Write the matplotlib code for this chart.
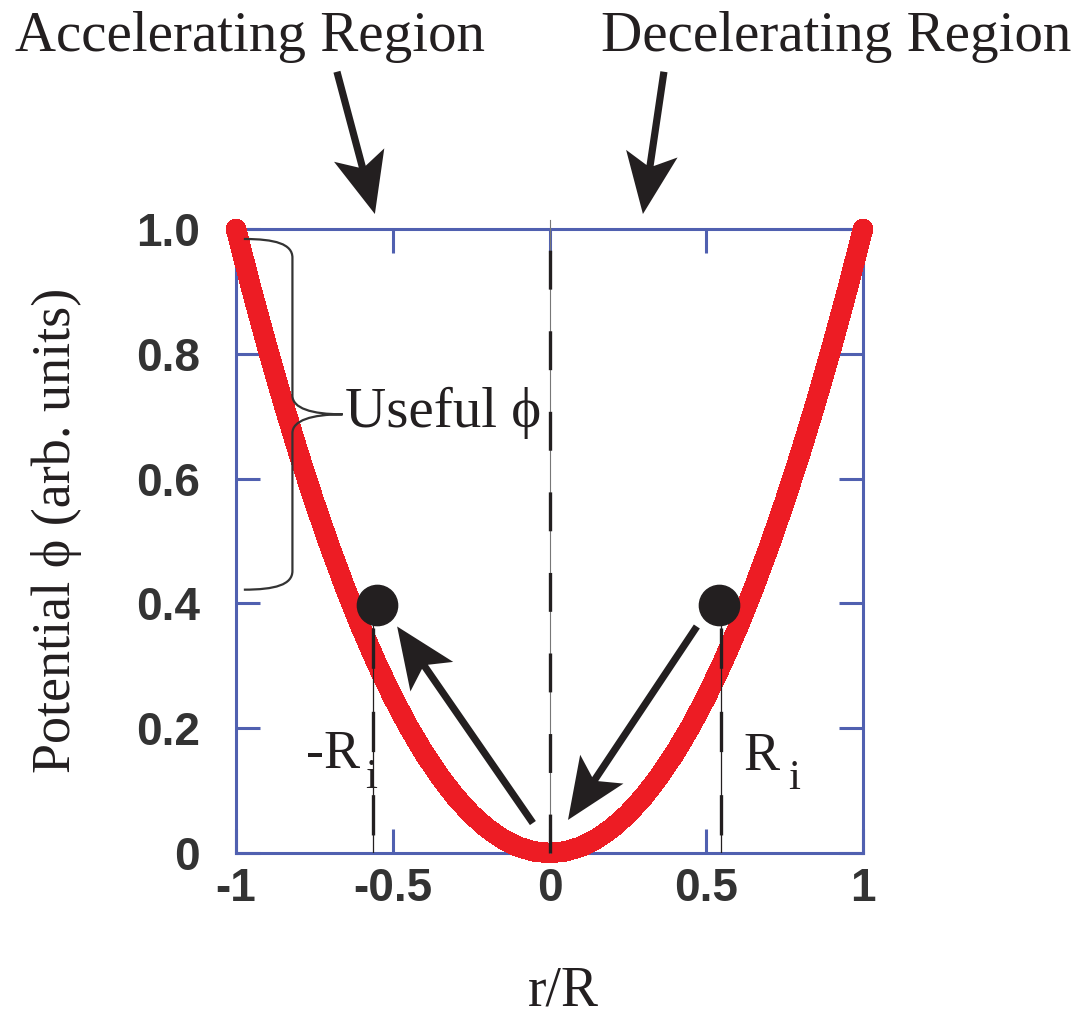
import matplotlib
matplotlib.use('Agg')
import matplotlib.pyplot as plt
import numpy as np
from matplotlib.patches import Polygon, PathPatch
from matplotlib.path import Path
from matplotlib.transforms import IdentityTransform

# potential curve
r_vals = [-1.0, -0.95, -0.9, -0.85, -0.8, -0.75, -0.7, -0.65, -0.6, -0.55, -0.5,
          -0.45, -0.4, -0.35, -0.3, -0.25, -0.2, -0.15, -0.1, -0.05, 0.0,
          0.05, 0.1, 0.15, 0.2, 0.25, 0.3, 0.35, 0.4, 0.45, 0.5,
          0.55, 0.6, 0.65, 0.7, 0.75, 0.8, 0.85, 0.9, 0.95, 1.0]
phi_vals = [1.0, 0.9025, 0.81, 0.7225, 0.64, 0.5625, 0.49, 0.4225, 0.36, 0.3025, 0.25,
            0.2025, 0.16, 0.1225, 0.09, 0.0625, 0.04, 0.0225, 0.01, 0.0025, 0.0,
            0.0025, 0.01, 0.0225, 0.04, 0.0625, 0.09, 0.1225, 0.16, 0.2025, 0.25,
            0.3025, 0.36, 0.4225, 0.49, 0.5625, 0.64, 0.7225, 0.81, 0.9025, 1.0]

dot_r = [-0.55, 0.54]
dot_phi = [0.397, 0.397]
ri_line_r = [-0.563, 0.547]

xticks = [-1, -0.5, 0, 0.5, 1]
xticklabels = ['-1', '-0.5', '0', '0.5', '1']
yticks = [0, 0.2, 0.4, 0.6, 0.8, 1.0]
yticklabels = ['0', '0.2', '0.4', '0.6', '0.8', '1.0']

# annotation arrows (tail, tip) in data units
arrows = [((-0.053, 0.048), (-0.486, 0.363)),
          ((0.470, 0.363), (0.059, 0.053)),
          ((-0.678, 1.252), (-0.557, 1.024)),
          ((0.365, 1.252), (0.298, 1.024))]

blue = '#5060b0'
red = '#ed1c24'
ink = '#231f20'
serif = ['Liberation Serif', 'DejaVu Serif']

plt.rcParams['lines.scale_dashes'] = False

fig = plt.figure(figsize=(10.84, 10.19), dpi=100)
ax = fig.add_axes([236/1084, 1-853/1019, 627/1084, 624/1019])
ax.set_xlim(-1, 1)
ax.set_ylim(0, 1)

for s in ax.spines.values():
    s.set_color(blue)
    s.set_linewidth(2.2)
ax.tick_params(direction='in', length=17, width=2.2, color=blue,
               top=True, right=True, labelsize=33, labelcolor='#333333')
ax.tick_params(axis='y', pad=26)
ax.tick_params(axis='x', pad=10)
ax.set_xticks(xticks)
ax.set_xticklabels(xticklabels)
ax.set_yticks(yticks)
ax.set_yticklabels(yticklabels)
for lab in ax.get_xticklabels() + ax.get_yticklabels():
    lab.set_family('Liberation Sans')
    lab.set_fontweight('bold')

# centre line
ax.plot([0, 0], [0, 1.015], color='#777777', lw=0.8, clip_on=False, zorder=4)
ax.plot([0, 0], [0, 1.015], color=ink, lw=2.4, ls=(0, (28, 30)), clip_on=False, zorder=5)

# potential
ax.plot(r_vals, phi_vals, color=red, lw=14, solid_capstyle='round',
        solid_joinstyle='round', antialiased=False, clip_on=False, zorder=3)

# R_i lines
for xr in ri_line_r:
    ax.plot([xr, xr], [0.4, 0.0], color=ink, lw=0.9, zorder=4)
    ax.plot([xr, xr], [0.4, 0.0], color=ink, lw=2.4, ls=(42, (29, 31)), zorder=4)
ax.plot(dot_r, dot_phi, 'o', color=ink, ms=29, zorder=6, clip_on=False)

# brace for useful phi
xt, xs, xp = -0.975, -0.82, -0.66
yt, yb, ym = 0.984, 0.422, 0.703
verts = [(xt, yt), (xt+0.1, yt), (xs, yt-0.008), (xs, yt-0.03),
         (xs, ym+0.03),
         (xs, ym+0.01), (xs+0.06, ym), (xp, ym),
         (xs+0.06, ym), (xs, ym-0.01), (xs, ym-0.03),
         (xs, yb+0.03),
         (xs, yb+0.008), (xt+0.1, yb), (xt, yb)]
codes = [Path.MOVETO, Path.CURVE4, Path.CURVE4, Path.CURVE4,
         Path.LINETO,
         Path.CURVE4, Path.CURVE4, Path.CURVE4,
         Path.CURVE4, Path.CURVE4, Path.CURVE4,
         Path.LINETO,
         Path.CURVE4, Path.CURVE4, Path.CURVE4]
ax.add_patch(PathPatch(Path(verts, codes), fc='none', ec='#333333', lw=1.6, zorder=4))


def draw_arrow(tail, tip, head=61, notch=49, half=26, shaft=3.6):
    p0 = ax.transData.transform(tail)
    p1 = ax.transData.transform(tip)
    u = (p0 - p1) / np.hypot(*(p0 - p1))
    n = np.array([-u[1], u[0]])
    pts = [p1,
           p1 + u*head + n*half,
           p1 + u*notch + n*shaft,
           p0 + n*shaft,
           p0 - n*shaft,
           p1 + u*notch - n*shaft,
           p1 + u*head - n*half]
    fig.add_artist(Polygon(pts, closed=True, fc=ink, ec='none',
                           transform=IdentityTransform(), zorder=7))


for tail, tip in arrows:
    draw_arrow(tail, tip)

ax.text(-0.955, 1.286, 'Accelerating Region', family=serif, fontsize=41,
        ha='center', va='baseline', color=ink, clip_on=False)
ax.text(0.914, 1.286, 'Decelerating Region', family=serif, fontsize=41,
        ha='center', va='baseline', color=ink, clip_on=False)
ax.text(-0.652, 0.682, 'Useful \u03d5', family=serif, fontsize=41,
        ha='left', va='baseline', color=ink)

# -R_i and R_i labels, subscript drawn as its own text
ax.text(-0.778, 0.136, '-R', family=serif, fontsize=39,
        ha='left', va='baseline', color=ink)
ax.text(-0.588, 0.104, 'i', family=serif, fontsize=31,
        ha='left', va='baseline', color=ink)
ax.text(0.620, 0.133, 'R', family=serif, fontsize=39,
        ha='left', va='baseline', color=ink)
ax.text(0.760, 0.103, 'i', family=serif, fontsize=31,
        ha='left', va='baseline', color=ink)

fig.text(57/1084, 1-530/1019, 'Potential \u03d5 (arb. units)', family=serif,
         fontsize=39, rotation=90, ha='center', va='center', color=ink)
fig.text(563/1084, 1-1006/1019, 'r/R', family=serif, fontsize=40,
         ha='center', va='baseline', color=ink)

fig.savefig('out.png', dpi=100)
